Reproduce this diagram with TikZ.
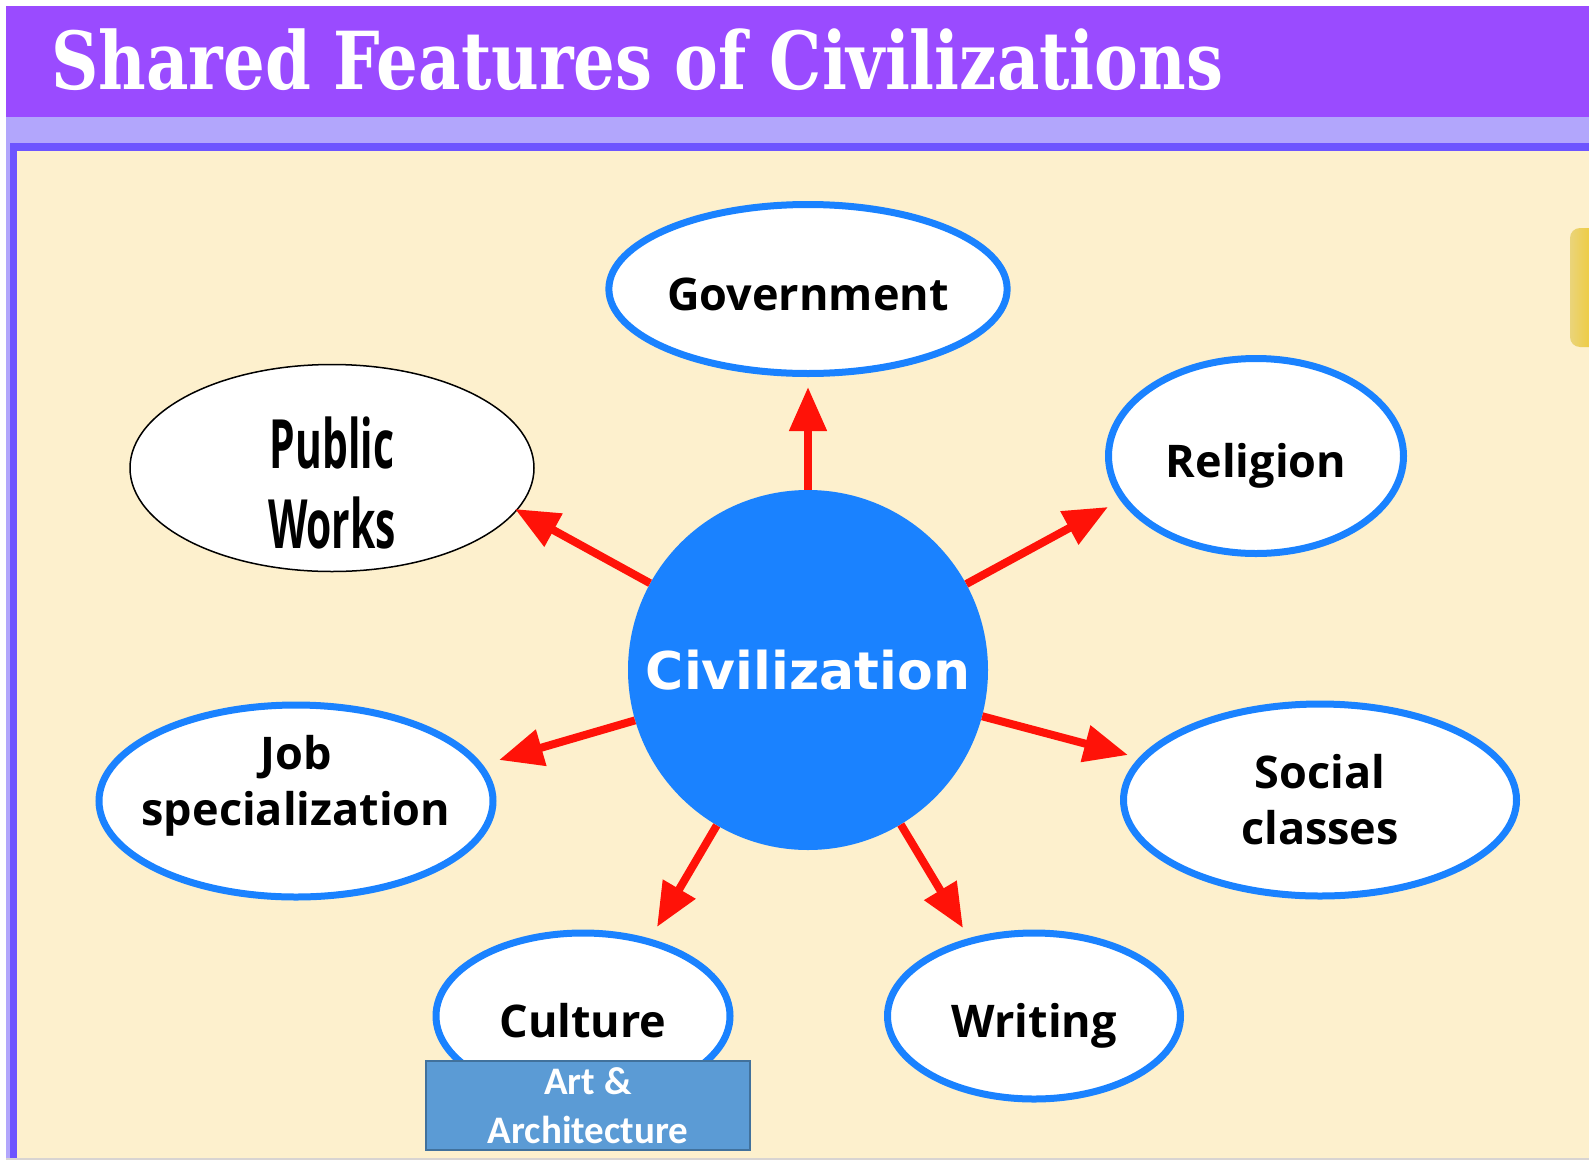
\documentclass[tikz,border=0pt]{standalone}
\usepackage{fontspec}
\usetikzlibrary{shapes.geometric,arrows.meta}

\newfontfamily\titlefont[FakeStretch=0.82]{DejaVu Serif}
\newfontfamily\labelfont{Open Sans}
\newfontfamily\pwfont[FakeStretch=0.6]{Open Sans}
\newfontfamily\civfont{DejaVu Sans}
\newfontfamily\boxfont{Carlito}

\definecolor{hdrpurple}{HTML}{9A4BFF}
\definecolor{hdrlavender}{HTML}{B2A6FC}
\definecolor{hdrblue}{HTML}{6D55FF}
\definecolor{paper}{HTML}{FDF0CD}
\definecolor{civblue}{HTML}{1A82FF}
\definecolor{spokered}{HTML}{FF1208}
\definecolor{artblue}{HTML}{5B9BD5}
\definecolor{artedge}{HTML}{41719C}
\definecolor{tabyellow}{HTML}{F2C40C}
\definecolor{tablight}{HTML}{EAD47A}
\definecolor{rulegrey}{HTML}{D8D4D2}

\tikzset{
  featuretext/.style={inner sep=0pt, align=center, font=\labelfont\bfseries\fontsize{45}{56}\selectfont},
  feature/.style={ellipse, draw=civblue, line width=7pt, fill=white, featuretext},
  oneline/.style={text height=44pt, text depth=2pt},
  spoke/.style={draw=spokered, line width=8pt, -{Triangle[length=44pt,width=36pt]}},
}

\begin{document}
\begin{tikzpicture}[x=1pt, y=-1pt]
\useasboundingbox (0,0) rectangle (1589,1162);
% header bands and page frame
\fill[hdrpurple] (6,6) rectangle (1589,117);
\fill[hdrlavender] (6,117) rectangle (1589,143);
\fill[hdrlavender] (6,143) rectangle (10,1158);
\fill[hdrblue] (10,143) rectangle (1589,151);
\fill[hdrblue] (10,151) rectangle (17,1158);
\fill[paper] (17,151) rectangle (1589,1158);
\fill[rulegrey] (6,1158) rectangle (1589,1160);
\shade[left color=tablight, right color=tabyellow, rounded corners=10pt] (1570,228) rectangle (1610,347);

\node[anchor=base west, inner sep=0pt, text=white, font=\titlefont\bfseries\fontsize{80}{80}\selectfont] (title) at (51,89) {Shared Features of Civilizations};

% centre
\node[circle, fill=civblue, minimum size=360pt, inner sep=0pt, text=white, font=\civfont\bfseries\fontsize{52}{52}\selectfont] (civ) at (808,670) {Civilization};

% features around it
\node[feature, oneline, minimum width=398pt, minimum height=169pt] (gov) at (808,289) {Government};
\node[feature, oneline, minimum width=295pt, minimum height=195pt] (rel) at (1256,456) {Religion};
\node[feature, minimum width=393pt, minimum height=192pt] (soc) at (1320,800) {Social\\classes};
\node[feature, oneline, minimum width=293pt, minimum height=166pt] (wri) at (1034,1016) {Writing};
\node[feature, oneline, minimum width=294pt, minimum height=166pt] (cul) at (583,1016) {Culture};
\node[feature, minimum width=394pt, minimum height=192pt, label={[featuretext, yshift=15pt]center:{Job\\specialization}}] (job) at (296,801) {};
\node[ellipse, draw=black, line width=1.5pt, fill=white, minimum width=404pt, minimum height=207pt, inner sep=0pt,
  label={[inner sep=0pt, align=center, yshift=-15pt, font=\pwfont\bfseries\fontsize{68}{80}\selectfont]center:{Public\\Works}}] (pw) at (332,468) {};

\node[draw=artedge, line width=2pt, fill=artblue, minimum width=324pt, minimum height=89pt, inner sep=0pt, text=white, align=center, font=\boxfont\bfseries\fontsize{39}{49}\selectfont] (art) at (588,1105.5) {Art \&\\Architecture};

% arrow tips
\coordinate (govtip) at (808,387);
\coordinate (pwtip) at (515,509);
\coordinate (reltip) at (1108,507);
\coordinate (jobtip) at (499,760);
\coordinate (soctip) at (1128,755);
\coordinate (cultip) at (657,927);
\coordinate (writip) at (963,928);

\foreach \tip in {govtip,pwtip,reltip,jobtip,soctip,cultip,writip}
  \draw[spoke] (civ) -- (\tip);
\end{tikzpicture}
\end{document}
